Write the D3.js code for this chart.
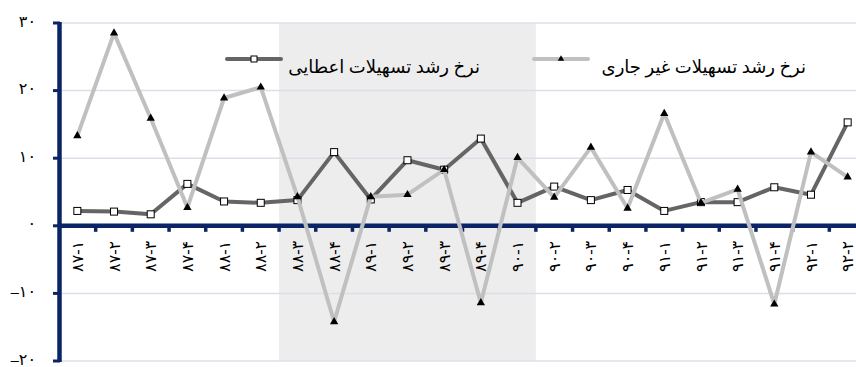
<!DOCTYPE html>
<html>
<head>
<meta charset="utf-8">
<script src="https://cdn.jsdelivr.net/npm/d3@7"></script>
<style>
  html, body { margin: 0; padding: 0; background: #fff; }
  svg { display: block; }
  text { font-family: "Liberation Serif", "DejaVu Sans", serif; fill: #000; }
</style>
</head>
<body>
<script>
// Quarterly periods (year-quarter)
const categories = [
  "۸۷-۱","۸۷-۲","۸۷-۳","۸۷-۴",
  "۸۸-۱","۸۸-۲","۸۸-۳","۸۸-۴",
  "۸۹-۱","۸۹-۲","۸۹-۳","۸۹-۴",
  "۹۰-۱","۹۰-۲","۹۰-۳","۹۰-۴",
  "۹۱-۱","۹۱-۲","۹۱-۳","۹۱-۴",
  "۹۲-۱","۹۲-۲"
];
// Growth rate of granted facilities
const grantedGrowth = [2.2, 2.1, 1.7, 6.2, 3.6, 3.4, 3.8, 10.9, 3.9, 9.7, 8.3, 12.9,
                       3.4, 5.8, 3.8, 5.3, 2.2, 3.5, 3.5, 5.7, 4.6, 15.3];
// Growth rate of non-performing facilities
const nonCurrentGrowth = [13.3, 28.5, 15.9, 2.7, 18.9, 20.5, 4.3, -14.2, 4.3, 4.6, 8.3, -11.4,
                          10.1, 4.2, 11.6, 2.6, 16.6, 3.4, 5.4, -11.6, 10.9, 7.2];
const yTicks = [-20, -10, 0, 10, 20, 30];
const yTickLabels = ["–۲۰", "–۱۰", "۰", "۱۰", "۲۰", "۳۰"];
const seriesNames = ["نرخ رشد تسهیلات اعطایی", "نرخ رشد تسهیلات غیر جاری"];

const W = 856, H = 367;
const axisColor = "#0b2466";
const svg = d3.select("body").append("svg").attr("width", W).attr("height", H);

const x = d3.scaleBand().domain(categories).range([59, 866]);
const y = d3.scaleLinear().domain([-20, 30]).range([361, 23]);

// Highlighted span 88-3 .. 90-1
svg.append("rect")
  .attr("x", x("۸۸-۳")).attr("y", y(30))
  .attr("width", x("۹۰-۱") + x.bandwidth() - x("۸۸-۳"))
  .attr("height", y(-20) - y(30))
  .attr("fill", "#ededed");

// Gridlines
svg.append("g").selectAll("line").data(yTicks.filter(d => d !== 0)).join("line")
  .attr("x1", 59).attr("x2", W)
  .attr("y1", d => y(d)).attr("y2", d => y(d))
  .attr("stroke", "#dbdfe7").attr("stroke-width", 1.5);

// Y axis tick labels
svg.append("g").selectAll("text").data(yTicks).join("text")
  .attr("x", 36).attr("y", d => y(d)).attr("dy", "0.22em")
  .attr("text-anchor", "end")
  .attr("font-size", 16)
  .text((d, i) => yTickLabels[i]);

// Y axis ticks
svg.append("g").selectAll("line").data(yTicks).join("line")
  .attr("x1", 53).attr("x2", 60)
  .attr("y1", d => y(d)).attr("y2", d => y(d))
  .attr("stroke", axisColor).attr("stroke-width", 3);

// X axis tick marks at category boundaries
const bounds = categories.map(c => x(c)).concat([x.range()[1]]);
svg.append("g").selectAll("line").data(bounds.slice(1)).join("line")
  .attr("x1", d => d).attr("x2", d => d)
  .attr("y1", y(0)).attr("y2", y(0) + 6)
  .attr("stroke", axisColor).attr("stroke-width", 3.5);

// Axis lines
svg.append("line").attr("x1", 59).attr("x2", W).attr("y1", y(0)).attr("y2", y(0))
  .attr("stroke", axisColor).attr("stroke-width", 4.5);
svg.append("line").attr("x1", 59.5).attr("x2", 59.5).attr("y1", y(30) - 1).attr("y2", y(-20) + 1)
  .attr("stroke", axisColor).attr("stroke-width", 4.5);

// Category labels, rotated
svg.append("g").selectAll("text").data(categories).join("text")
  .attr("transform", d => `translate(${x(d) + x.bandwidth() / 2},${y(0) + 15}) rotate(-90)`)
  .attr("text-anchor", "end").attr("dy", "0.35em")
  .attr("font-size", 16)
  .text(d => d);

const cx = (d, i) => x(categories[i]) + x.bandwidth() / 2;
const line = d3.line().x(cx).y(d => y(d));

// Granted facilities
svg.append("path").datum(grantedGrowth).attr("d", line)
  .attr("fill", "none").attr("stroke", "#656565").attr("stroke-width", 4)
  .attr("stroke-linejoin", "round");
svg.append("g").selectAll("rect").data(grantedGrowth).join("rect")
  .attr("x", (d, i) => cx(d, i) - 3.5).attr("y", d => y(d) - 3.5)
  .attr("width", 7).attr("height", 7)
  .attr("fill", "#fff").attr("stroke", "#000").attr("stroke-width", 1);

// Non-performing facilities
const tri = d3.symbol().type(d3.symbolTriangle).size(30);
svg.append("path").datum(nonCurrentGrowth).attr("d", line)
  .attr("fill", "none").attr("stroke", "#c0c0c0").attr("stroke-width", 4)
  .attr("stroke-linejoin", "round");
svg.append("g").selectAll("path").data(nonCurrentGrowth).join("path")
  .attr("d", tri)
  .attr("transform", (d, i) => `translate(${cx(d, i)},${y(d)})`)
  .attr("fill", "#000");

// Legend
const legend = [
  { name: seriesNames[0], x1: 227, x2: 281, color: "#656565", tx: 480 },
  { name: seriesNames[1], x1: 534, x2: 588, color: "#c0c0c0", tx: 806 }
];
const lg = svg.append("g");
legend.forEach((l, k) => {
  lg.append("line").attr("x1", l.x1).attr("x2", l.x2).attr("y1", 59).attr("y2", 59)
    .attr("stroke", l.color).attr("stroke-width", 4).attr("stroke-linecap", "round");
  const mx = (l.x1 + l.x2) / 2;
  if (k === 0) {
    lg.append("rect").attr("x", mx - 3).attr("y", 56).attr("width", 6).attr("height", 6)
      .attr("fill", "#fff").attr("stroke", "#000").attr("stroke-width", 1);
  } else {
    lg.append("path").attr("d", d3.symbol().type(d3.symbolTriangle).size(18))
      .attr("transform", `translate(${mx},59)`).attr("fill", "#000");
  }
  lg.append("text").attr("x", l.tx).attr("y", 67).attr("dy", "0.35em")
    .attr("text-anchor", "end").attr("font-size", 18)
    .text(l.name);
});
</script>
</body>
</html>
